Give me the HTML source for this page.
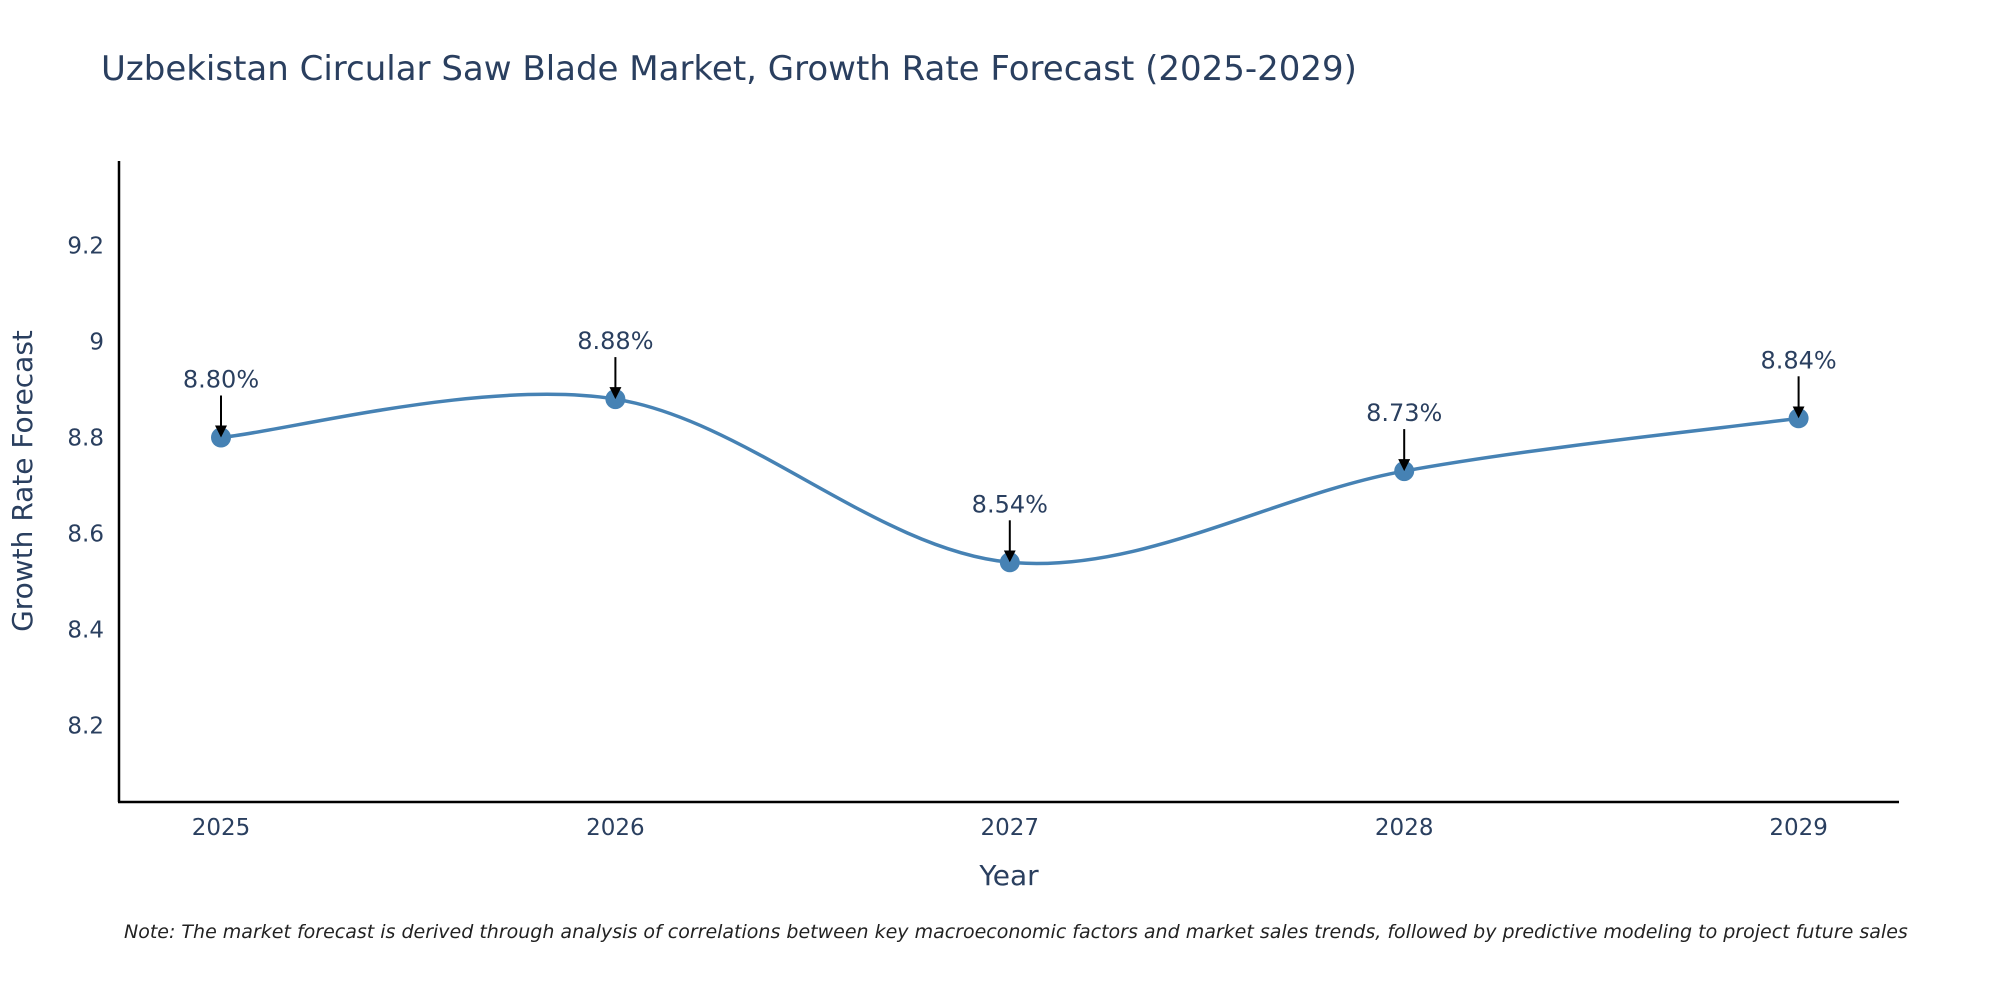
<!DOCTYPE html>
<html><head><meta charset="utf-8"><style>
body{margin:0;background:#fff;}
svg text{font-family:"DejaVu Sans","Liberation Sans",sans-serif;fill:#2a3f5f;}
</style></head><body>
<svg width="2000" height="1000" viewBox="0 0 2000 1000" xmlns="http://www.w3.org/2000/svg">
<defs><marker id="ah" markerWidth="6" markerHeight="6" refX="4.5" refY="3" orient="auto" markerUnits="strokeWidth"><path d="M0,0 L6,3 L0,6 z" fill="#000"/></marker></defs>
<text x="101" y="80" font-size="34">Uzbekistan Circular Saw Blade Market, Growth Rate Forecast (2025-2029)</text>
<g id="yticks"></g><g id="xticks"></g>
<line x1="119" y1="161" x2="119" y2="802" stroke="#000" stroke-width="2.5"/>
<line x1="118" y1="802" x2="1899" y2="802" stroke="#000" stroke-width="2.5"/>
<path id="line" fill="none" stroke="#4682b4" stroke-width="3.5"/>
<g id="pts"></g>
<text x="32" y="481" font-size="28" text-anchor="middle" transform="rotate(-90 32 481)">Growth Rate Forecast</text>
<text x="1009" y="885" font-size="28" text-anchor="middle">Year</text>
<text x="124" y="938" font-size="19" font-style="italic" style="fill:#222">Note: The market forecast is derived through analysis of correlations between key macroeconomic factors and market sales trends, followed by predictive modeling to project future sales</text>
</svg>
<script>
const years=["2025","2026","2027","2028","2029"];
const values=[8.80,8.88,8.54,8.73,8.84];
const labels=["8.80%","8.88%","8.54%","8.73%","8.84%"];
const yTicks=[8.2,8.4,8.6,8.8,9.0,9.2];
const yTickLabels=["8.2","8.4","8.6","8.8","9","9.2"];
const NS="http://www.w3.org/2000/svg";
function X(i){return 221+i*394.4;}
function Y(v){return 725.5-(v-8.2)/0.2*96;}
function mk(t,a,p){const e=document.createElementNS(NS,t);for(const k in a)e.setAttribute(k,a[k]);p.appendChild(e);return e;}
const yt=document.getElementById('yticks');
yTicks.forEach((v,i)=>{const t=mk('text',{x:104,y:Y(v)+8,'font-size':23,'text-anchor':'end'},yt);t.textContent=yTickLabels[i];

});
const xt=document.getElementById('xticks');
years.forEach((y,i)=>{const t=mk('text',{x:X(i),y:835,'font-size':23,'text-anchor':'middle'},xt);t.textContent=y;

});
const P=values.map((v,i)=>[X(i),Y(v)]);
let d=`M${P[0][0]},${P[0][1]}`;const k=0.5/3;
for(let i=0;i<P.length-1;i++){const p0=P[Math.max(0,i-1)],p1=P[i],p2=P[i+1],p3=P[Math.min(P.length-1,i+2)];
const c1=[p1[0]+(p2[0]-p0[0])*k,p1[1]+(p2[1]-p0[1])*k],c2=[p2[0]-(p3[0]-p1[0])*k,p2[1]-(p3[1]-p1[1])*k];
d+=` C${c1[0]},${c1[1]} ${c2[0]},${c2[1]} ${p2[0]},${p2[1]}`;}
document.getElementById('line').setAttribute('d',d);
const g=document.getElementById('pts');
P.forEach((p,i)=>{const c=mk('circle',{cx:p[0],cy:p[1],r:10,fill:'#4682b4'},g);


const a=mk('line',{x1:p[0],y1:p[1]-42,x2:p[0],y2:p[1]-3,stroke:'#000','stroke-width':2,'marker-end':'url(#ah)'},g);


const t=mk('text',{x:p[0],y:p[1]-50,'font-size':24,'text-anchor':'middle'},g);t.textContent=labels[i];

});
</script>
</body></html>
